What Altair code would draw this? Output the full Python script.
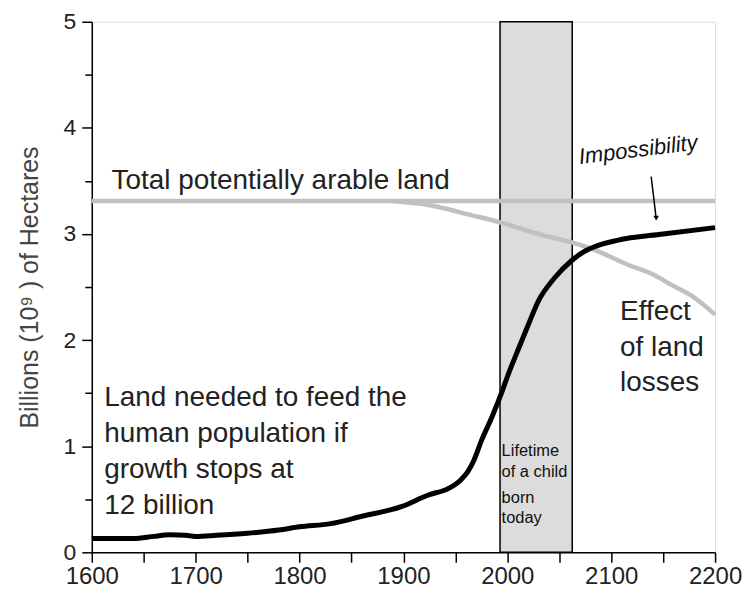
import altair as alt
import pandas as pd

# ---- data ----
need_year = [1600, 1640, 1660, 1675, 1690, 1700, 1720, 1750, 1780, 1800, 1830, 1860, 1898,
             1924, 1943, 1955, 1962, 1968, 1975, 1985, 1994, 2001, 2010, 2020, 2030,
             2045, 2062, 2075, 2084, 2106, 2150, 2200]
need_val = [0.13, 0.13, 0.15, 0.165, 0.16, 0.15, 0.16, 0.18, 0.21, 0.24, 0.27, 0.34, 0.43,
            0.54, 0.60, 0.68, 0.76, 0.87, 1.05, 1.27, 1.49, 1.68, 1.90, 2.14, 2.37,
            2.58, 2.75, 2.84, 2.88, 2.94, 3.00, 3.06]

arable_year = [1600, 2200]
arable_val = [3.31, 3.31]

loss_year = [1890, 1900, 1920, 1940, 1960, 1993, 2030, 2062, 2084, 2116, 2140, 2158, 2180, 2200]
loss_val = [3.31, 3.30, 3.28, 3.24, 3.19, 3.11, 3.00, 2.92, 2.85, 2.71, 2.62, 2.52, 2.40, 2.24]

lifetime_start, lifetime_end = 1993, 2062.5

x_ticks = list(range(1600, 2201, 50))
y_ticks = [i / 2 for i in range(0, 11)]

FONT = "Liberation Sans"

xs = alt.Scale(domain=[1600, 2200], nice=False, zero=False)
ys = alt.Scale(domain=[0, 5], nice=False, zero=False)

x_axis = alt.Axis(values=x_ticks,
                  labelExpr="datum.value % 100 === 0 ? format(datum.value, 'd') : ''",
                  title=None, grid=False, tickSize=10, tickWidth=1.5,
                  tickColor="black", domainColor="black", domainWidth=1.5,
                  labelFontSize=24, labelFont=FONT, labelColor="#222", labelFlush=False,
                  labelPadding=2)
y_axis = alt.Axis(values=y_ticks,
                  labelExpr="datum.value % 1 === 0 ? format(datum.value, 'd') : ''",
                  title="Billions (10⁹ ) of Hectares", grid=False,
                  tickSize={"condition": {"test": "datum.value % 1 === 0", "value": 10}, "value": 7},
                  tickWidth=1.5, tickColor="black", domainColor="black", domainWidth=1.5,
                  labelFontSize=23, labelFont=FONT, labelColor="#222", labelPadding=6,
                  titleFontSize=25, titleFont=FONT, titleFontWeight="normal",
                  titleColor="#444", titlePadding=21)

box_df = pd.DataFrame({"x": [lifetime_start], "x2": [lifetime_end], "y": [0], "y2": [5]})
box = alt.Chart(box_df).mark_rect(fill="#dcdcdc", stroke="black", strokeWidth=1.5).encode(
    x=alt.X("x:Q", scale=xs, axis=x_axis), x2="x2:Q",
    y=alt.Y("y:Q", scale=ys, axis=y_axis), y2="y2:Q")

arable_df = pd.DataFrame({"year": arable_year, "val": arable_val})
arable = alt.Chart(arable_df).mark_line(color="#c0c0c0", strokeWidth=4.5).encode(
    x=alt.X("year:Q", scale=xs), y=alt.Y("val:Q", scale=ys))

loss_df = pd.DataFrame({"year": loss_year, "val": loss_val})
loss = alt.Chart(loss_df).mark_line(color="#c0c0c0", strokeWidth=4.5, interpolate="monotone").encode(
    x=alt.X("year:Q", scale=xs), y=alt.Y("val:Q", scale=ys))

need_df = pd.DataFrame({"year": need_year, "val": need_val})
need = alt.Chart(need_df).mark_line(color="black", strokeWidth=5, interpolate="monotone").encode(
    x=alt.X("year:Q", scale=xs), y=alt.Y("val:Q", scale=ys))

arrow_df = pd.DataFrame({"x": [2138.5], "y": [3.54], "x2": [2143.0], "y2": [3.17]})
arrow_line = alt.Chart(arrow_df).mark_rule(color="black", strokeWidth=1.5).encode(
    x=alt.X("x:Q", scale=xs), y=alt.Y("y:Q", scale=ys), x2="x2:Q", y2="y2:Q")
head_df = pd.DataFrame({"x": [2143.3], "y": [3.15]})
arrow_head = alt.Chart(head_df).mark_point(shape="triangle-down", filled=True, color="black",
                                           size=30, opacity=1).encode(
    x=alt.X("x:Q", scale=xs), y=alt.Y("y:Q", scale=ys))

big_text = pd.DataFrame({
    "x": [1619, 1612, 1612, 1612, 1612, 2108.5, 2108.5, 2108.5],
    "y": [3.42, 1.38, 1.04, 0.70, 0.36, 2.19, 1.85, 1.52],
    "t": ["Total potentially arable land", "Land needed to feed the", "human population if",
          "growth stops at", "12 billion", "Effect", "of land", "losses"],
})
big = alt.Chart(big_text).mark_text(align="left", baseline="alphabetic", fontSize=28,
                                    font=FONT, color="#222").encode(
    x=alt.X("x:Q", scale=xs), y=alt.Y("y:Q", scale=ys), text="t:N")

small_text = pd.DataFrame({
    "x": [1994.5] * 4,
    "y": [0.91, 0.71, 0.465, 0.28],
    "t": ["Lifetime", "of a child", "born", "today"],
})
small = alt.Chart(small_text).mark_text(align="left", baseline="alphabetic", fontSize=16.5,
                                        font=FONT, color="#111").encode(
    x=alt.X("x:Q", scale=xs), y=alt.Y("y:Q", scale=ys), text="t:N")

imp_df = pd.DataFrame({"x": [2069.7], "y": [3.66], "t": ["Impossibility"]})
imp = alt.Chart(imp_df).mark_text(align="left", baseline="alphabetic", fontSize=22, font=FONT,
                                  fontStyle="italic", color="#111", angle=353).encode(
    x=alt.X("x:Q", scale=xs), y=alt.Y("y:Q", scale=ys), text="t:N")

chart = alt.layer(box, arable, loss, need, arrow_line, arrow_head, big, small, imp).properties(
    width=625, height=532,
    autosize=alt.AutoSizeParams(type="none"),
    padding={"left": 84, "top": 13, "right": 27, "bottom": 38},
).configure_view(stroke="black", strokeWidth=1.5).configure(background="white")

chart.save("out.html", embed_options={"renderer": "svg", "actions": False})
